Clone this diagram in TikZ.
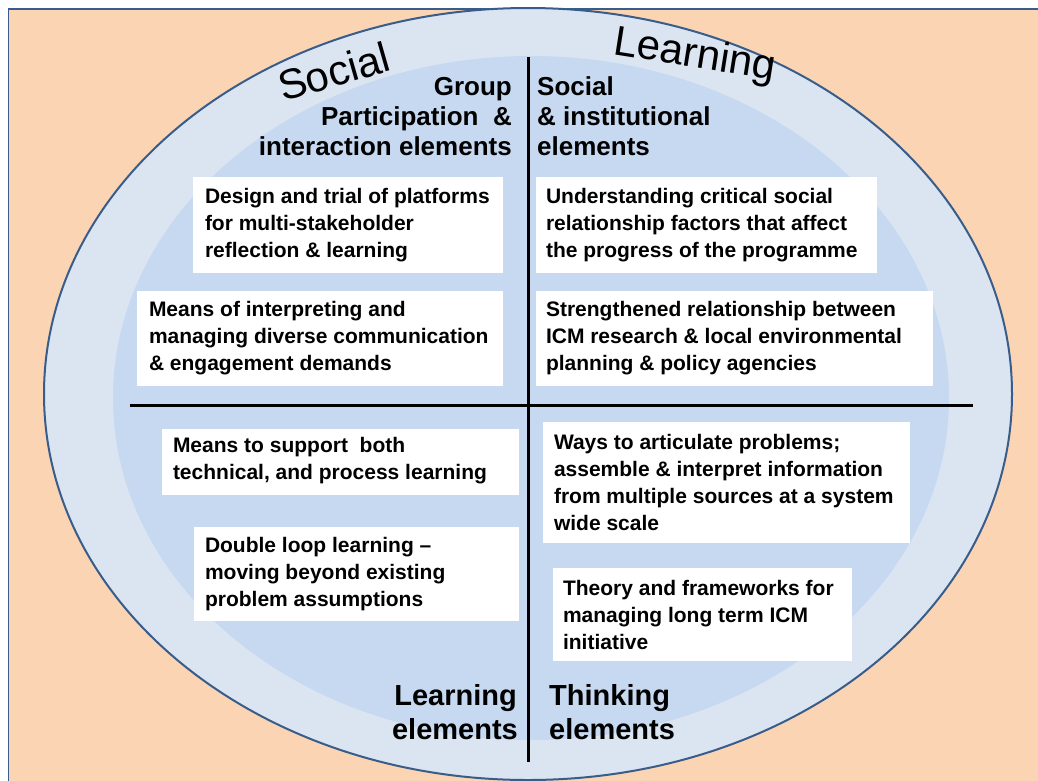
\documentclass[tikz,border=0pt]{standalone}
\usepackage{fontspec}
\setmainfont{Liberation Sans}
\usetikzlibrary{calc}
\definecolor{peach}{HTML}{FBD4B4}
\definecolor{ringblue}{HTML}{DBE5F1}
\definecolor{innerblue}{HTML}{C6D9F1}
\definecolor{edgeblue}{HTML}{385D8A}
\begin{document}
\begin{tikzpicture}[x=1pt,y=-1pt,
  wbox/.style={fill=white, draw=none, inner sep=0pt},
  btext/.style={font=\bfseries\fontsize{21}{27}\selectfont, align=left, inner sep=0pt, anchor=west},
  headR/.style={font=\bfseries\fontsize{26}{30}\selectfont, inner sep=0pt, anchor=base east},
  headL/.style={font=\bfseries\fontsize{26}{30}\selectfont, inner sep=0pt, anchor=base west},
  botR/.style={font=\bfseries\fontsize{29}{34}\selectfont, inner sep=0pt, anchor=base east},
  botL/.style={font=\bfseries\fontsize{29}{34}\selectfont, inner sep=0pt, anchor=base west},
  crossline/.style={line width=3pt, black},
  ringword/.style={font=\fontsize{42}{42}\selectfont, inner sep=0pt, anchor=base}
]
\useasboundingbox (0,0) rectangle (1038,780);
\fill[white] (0,0) rectangle (1038,780);
\fill[peach] (8.5,9) rectangle (1045,790);
\draw[edgeblue, line width=1.5pt] (1045,9) -- (8.5,9) -- (8.5,790);

% ellipses
\draw[fill=ringblue, draw=edgeblue, line width=2pt] (528,394) ellipse [x radius=484, y radius=386];
\fill[innerblue] (531,398) ellipse [x radius=418, y radius=342];

% ring words
\node[ringword, rotate=16] (wsocial) at (338,86) {Social};
\node[ringword, rotate=-9] (wlearning) at (693,67) {Learning};

% cross
\coordinate (vtop) at (528,57);
\coordinate (vbot) at (528,762);
\coordinate (hleft) at (130,405);
\coordinate (hright) at (973,405);
\draw[crossline] (vtop) -- (vbot);
\draw[crossline] (hleft) -- (hright);

% headings
\node[headR] (g1) at (512,95) {Group};
\node[headR] (g2) at (512,125) {Participation \ \&};
\node[headR] (g3) at (512,155) {interaction elements};
\node[headL] (s1) at (537,95) {Social};
\node[headL] (s2) at (537,125) {\& institutional};
\node[headL] (s3) at (537,155) {elements};
\node[botR] (l1) at (517,705) {Learning};
\node[botR] (l2) at (518,739) {elements};
\node[botL] (k1) at (549,705) {Thinking};
\node[botL] (k2) at (549,739) {elements};

% boxes
\node[wbox, minimum width=310, minimum height=96] (b1) at (348,225) {};
\node[btext] (t1) at ([xshift=12pt]b1.west) {Design and trial of platforms\\for multi-stakeholder\\reflection \& learning};
\node[wbox, minimum width=366, minimum height=95] (b2) at (320,338.5) {};
\node[btext] (t2) at ([xshift=12pt]b2.west) {Means of interpreting and\\managing diverse communication\\\& engagement demands};
\node[wbox, minimum width=341, minimum height=96] (b3) at (706.5,225) {};
\node[btext] (t3) at ([xshift=10pt]b3.west) {Understanding critical social\\relationship factors that affect\\the progress of the programme};
\node[wbox, minimum width=397, minimum height=95] (b4) at (734.5,338.5) {};
\node[btext] (t4) at ([xshift=10pt]b4.west) {Strengthened relationship between\\ICM research \& local environmental\\planning \& policy agencies};
\node[wbox, minimum width=357, minimum height=66] (b5) at (340.5,462) {};
\node[btext] (t5) at ([xshift=11pt,yshift=1pt]b5.west) {Means to support\ \ both\\technical, and process learning};
\node[wbox, minimum width=325, minimum height=94] (b6) at (356.5,574) {};
\node[btext] (t6) at ([xshift=11pt]b6.west) {Double loop learning –\\moving beyond existing\\problem assumptions};
\node[wbox, minimum width=367, minimum height=121] (b7) at (726.5,482.5) {};
\node[btext] (t7) at ([xshift=11pt]b7.west) {Ways to articulate problems;\\assemble \& interpret information\\from multiple sources at a system\\wide scale};
\node[wbox, minimum width=299, minimum height=93] (b8) at (702.5,614.5) {};
\node[btext] (t8) at ([xshift=10pt]b8.west) {Theory and frameworks for\\managing long term ICM\\initiative};
\end{tikzpicture}
\end{document}
